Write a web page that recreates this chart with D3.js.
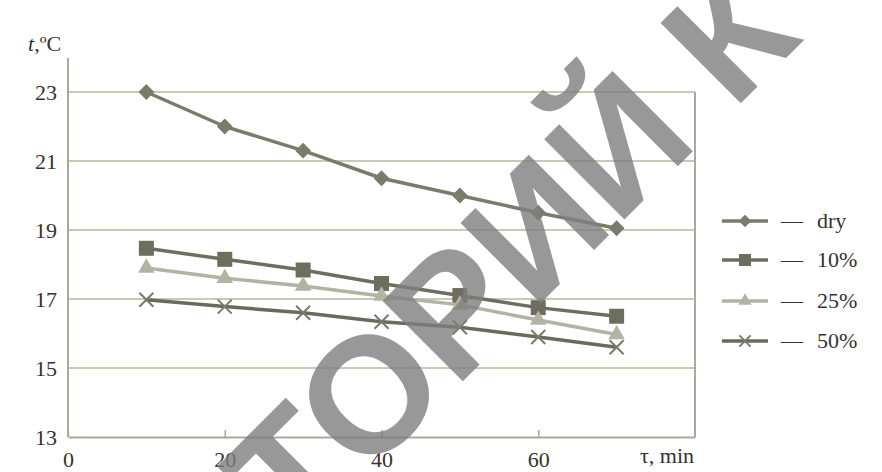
<!DOCTYPE html>
<html>
<head>
<meta charset="utf-8">
<script src="https://cdn.jsdelivr.net/npm/d3@7"></script>
<style>
  body { margin: 0; background: #fff; }
  svg text { font-family: "Liberation Serif", "Times New Roman", serif; fill: #333; }
</style>
</head>
<body>
<script>
// Chart data
var minutes = [10, 20, 30, 40, 50, 60, 70];
var dryValues = [23.0, 22.0, 21.3, 20.5, 20.0, 19.5, 19.05];
var tenValues = [18.47, 18.15, 17.84, 17.45, 17.1, 16.75, 16.5];
var quarterValues = [17.9, 17.6, 17.38, 17.09, 16.83, 16.39, 15.97];
var halfValues = [16.98, 16.78, 16.6, 16.34, 16.18, 15.9, 15.6];
var seriesNames = ["dry", "10%", "25%", "50%"];
var yTicks = [13, 15, 17, 19, 21, 23];
var xTicks = [0, 20, 40, 60];

(function(){
    var width = 882, height = 472;
    var svg = d3.select("body").append("svg")
        .attr("width", width)
        .attr("height", height);

    // plot frame
    var left = 68, right = 695, top = 92, bottom = 437;
    var x = d3.scaleLinear().domain([0, 80]).range([left, right]);
    var y = d3.scaleLinear().domain([13, 23]).range([bottom, top]);

    var gridColor = "#c9c9b7", axisColor = "#aaaa9a";

    // horizontal gridlines
    svg.append("g").selectAll("line")
        .data(yTicks.slice(1))
        .enter().append("line")
        .attr("x1", left).attr("x2", right)
        .attr("y1", function(d){ return y(d); })
        .attr("y2", function(d){ return y(d); })
        .attr("stroke", gridColor)
        .attr("stroke-width", 2);

    // right border of plot area
    svg.append("line")
        .attr("x1", right).attr("x2", right)
        .attr("y1", y(23)).attr("y2", y(13))
        .attr("stroke", axisColor).attr("stroke-width", 2);

    // y axis (line reaches above the top gridline)
    svg.append("line")
        .attr("x1", left).attr("x2", left)
        .attr("y1", 58).attr("y2", bottom)
        .attr("stroke", axisColor).attr("stroke-width", 2);

    var yAxis = svg.append("g")
        .attr("transform", "translate(" + left + ",0)")
        .call(d3.axisLeft(y).tickValues(yTicks).tickSize(0).tickPadding(11));
    yAxis.select(".domain").remove();
    yAxis.selectAll("text")
        .style("font-size", "22px")
        .style("font-family", "Liberation Serif, serif")
        .attr("fill", "#333");

    // x axis with small inward ticks
    var xAxis = svg.append("g")
        .attr("transform", "translate(0," + bottom + ")")
        .call(d3.axisBottom(x).tickValues(xTicks).tickSizeInner(-7).tickSizeOuter(0).tickPadding(14));
    xAxis.select(".domain")
        .attr("stroke", axisColor).attr("stroke-width", 2);
    xAxis.selectAll(".tick line")
        .attr("stroke", axisColor).attr("stroke-width", 1.5);
    xAxis.selectAll("text")
        .style("font-size", "22px")
        .style("font-family", "Liberation Serif, serif")
        .attr("fill", "#333");

    // axis titles
    var yTitle = svg.append("text")
        .attr("x", 28).attr("y", 51)
        .style("font-size", "22px");
    yTitle.append("tspan").style("font-style", "italic").text("t");
    yTitle.append("tspan").text(",ºC");

    svg.append("text")
        .attr("x", 694).attr("y", 463)
        .attr("text-anchor", "end")
        .style("font-size", "22px")
        .text("τ, min");

    // series definitions
    var series = [
        { name: seriesNames[0], values: dryValues, color: "#7b7b6b", width: 3.5, marker: "diamond" },
        { name: seriesNames[1], values: tenValues, color: "#6e6e5f", width: 3.5, marker: "square" },
        { name: seriesNames[2], values: quarterValues, color: "#b3b3a3", width: 3.5, marker: "triangle" },
        { name: seriesNames[3], values: halfValues, color: "#6a6a5c", width: 3.5, marker: "cross" }
    ];

    var line = d3.line()
        .x(function(d){ return x(d[0]); })
        .y(function(d){ return y(d[1]); });

    function drawMarker(g, type, color, scale) {
        if (type === "diamond") {
            g.append("path").attr("d", d3.symbol().type(d3.symbolSquare).size(125 * scale * scale)())
                .attr("transform", "rotate(45)").attr("fill", color);
        } else if (type === "square") {
            g.append("path").attr("d", d3.symbol().type(d3.symbolSquare).size(225 * scale * scale)())
                .attr("fill", color);
        } else if (type === "triangle") {
            g.append("path").attr("d", d3.symbol().type(d3.symbolTriangle).size(120 * scale * scale)())
                .attr("fill", color);
        } else {
            var r = 7 * scale;
            g.append("path").attr("d", "M" + (-r) + "," + (-r) + "L" + r + "," + r + "M" + (-r) + "," + r + "L" + r + "," + (-r))
                .attr("stroke", "#7a7a6a").attr("stroke-width", 2).attr("fill", "none");
        }
    }

    series.forEach(function(s){
        var pts = minutes.map(function(m, i){ return [m, s.values[i]]; });
        svg.append("path")
            .datum(pts)
            .attr("d", line)
            .attr("fill", "none")
            .attr("stroke", s.color)
            .attr("stroke-width", s.width)
            .attr("stroke-linejoin", "round");
        pts.forEach(function(p){
            var g = svg.append("g").attr("transform", "translate(" + x(p[0]) + "," + y(p[1]) + ")");
            drawMarker(g, s.marker, s.color, 1);
        });
    });

    // legend
    var legendRows = [221, 260, 301, 341];
    series.forEach(function(s, i){
        var ly = legendRows[i];
        var g = svg.append("g").attr("transform", "translate(0," + ly + ")");
        g.append("line").attr("x1", 722).attr("x2", 768).attr("y1", 0).attr("y2", 0)
            .attr("stroke", s.color).attr("stroke-width", 3.5);
        var m = g.append("g").attr("transform", "translate(745,0)");
        drawMarker(m, s.marker, s.color, 0.8);
        g.append("text").attr("x", 781).attr("y", 7).style("font-size", "22px").text("—");
        g.append("text").attr("x", 817).attr("y", 7).style("font-size", "22px").text(s.name);
    });

    // repository watermark across the chart
    svg.append("text")
        .attr("transform", "translate(296,548) rotate(-45)")
        .style("font-family", "Liberation Sans, Arial, sans-serif")
        .style("font-size", "165px")
        .style("font-weight", "bold")
        .style("fill", "#7f7f7f")
        .style("opacity", 0.8)
        .text("ТОРИЙ К");
})();
</script>
</body>
</html>
